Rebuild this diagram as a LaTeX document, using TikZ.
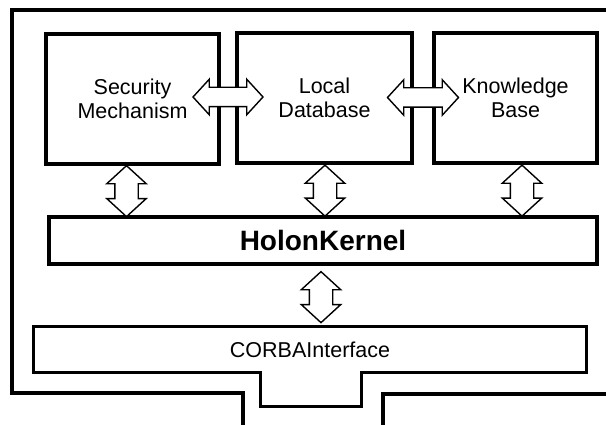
\documentclass[tikz,border=0pt]{standalone}
\usepackage{fontspec}
\setmainfont{Liberation Sans}
\usetikzlibrary{shapes,arrows,positioning,calc}

\begin{document}
\begin{tikzpicture}[
    x=1pt, y=-1pt,
    block/.style={
        draw,
        line width=3.3pt,
        fill=white,
        align=center,
        font=\fontsize{21.5}{24}\selectfont
        },
    twoway/.style={
        draw,
        line width=1.4pt,
        fill=white,
        shape=double arrow,
        double arrow head extend=8pt,
        double arrow tip angle=95,
        inner xsep=0pt,
        inner ysep=9pt
        },
    upright/.style={
        rotate=90,
        inner ysep=11pt
        }
    ]
                \useasboundingbox (0,0) rectangle (606,425);

                % holon outline
                \draw[
                    line width=3.3pt
                    ] (243,428) -- (243,393) -- (12,393) -- (12,10) -- (609,10);
                \draw[
                    line width=3.3pt
                    ] (383,428) -- (383,394) -- (609,394);

                \node[block, minimum width=173, minimum height=130] (security) at (132.5,99) {Security\\Mechanism};
                \node[block, minimum width=175, minimum height=130] (database) at (324.5,98) {Local\\Database};
                \node[block, minimum width=163, minimum height=130] (knowledge) at (515.5,98) {Knowledge\\Base};

                \node[
                    block,
                    minimum width=548,
                    minimum height=47,
                    font=\fontsize{28}{32}\selectfont\bfseries
                    ] (kernel) at (323,240.5) {HolonKernel};

                \node[
                    minimum width=552,
                    minimum height=45,
                    font=\fontsize{21.5}{24}\selectfont
                    ] (corba) at (310,349.5) {CORBAInterface};
                \draw[
                    line width=3.3pt
                    ] (corba.south west) -- (corba.north west) -- (corba.north east) -- (corba.south east)
                    -- ++(-225,0) -- ++(0,34) -- ++(-101,0) -- ++(0,-34) -- cycle;

                % links
                \node[twoway, minimum height=70] (secdb) at ($(security.east)!0.5!(database.west)+(0,-1.5)$) {};
                \node[twoway, minimum height=71] (dbknow) at ($(database.east)!0.5!(knowledge.west)+(0,-0.5)$) {};

                \node[twoway, upright, minimum height=51] (seckernel) at ($(security.south)+(-6,25.5)$) {};
                \node[twoway, upright, minimum height=51] (dbkernel) at ($(database.south)+(0.5,26)$) {};
                \node[twoway, upright, minimum height=51] (knowkernel) at ($(knowledge.south)+(6.5,26)$) {};
                \node[twoway, upright, minimum height=51] (kernelcorba) at ($(kernel.south)+(-2,31.5)$) {};

            \end{tikzpicture}
\end{document}
